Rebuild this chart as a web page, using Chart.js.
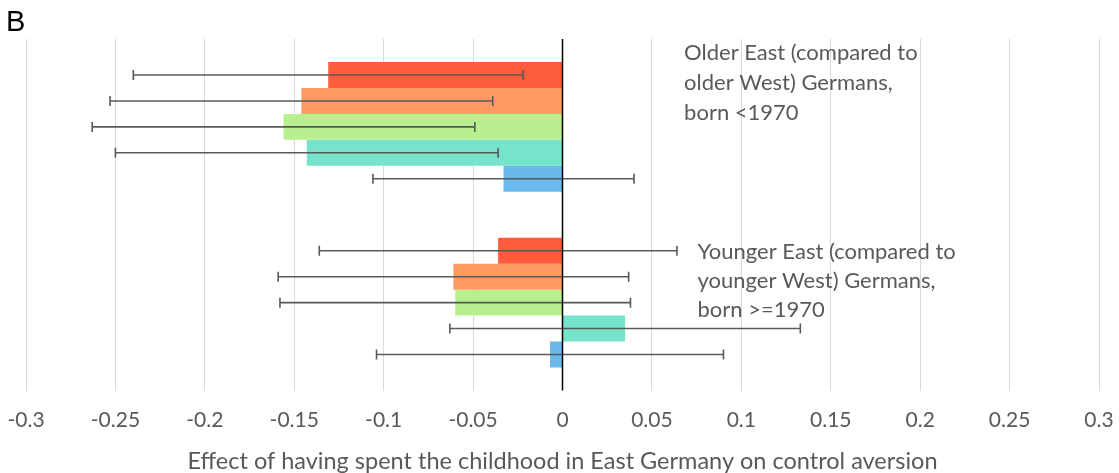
<!DOCTYPE html>
<html>
<head>
<meta charset="utf-8">
<script src="https://cdn.jsdelivr.net/npm/chart.js@4"></script>
<style>
    html, body { margin: 0; padding: 0; background: #ffffff; }
    #wrap { position: relative; width: 1119px; height: 473px; }
</style>
</head>
<body>
<div id="wrap"><canvas id="chart"></canvas></div>
<script>
// Two groups of bars (older / younger cohort)
const groups = ['Older (born <1970)', 'Younger (born >=1970)'];

// Bar values for each of the five series, one value per group
const seriesRed = [-0.131, -0.036];
const seriesOrange = [-0.146, -0.061];
const seriesGreen = [-0.156, -0.060];
const seriesTeal = [-0.143, 0.035];
const seriesBlue = [-0.033, -0.007];

// Half widths of the error bars, same order
const errRed = [0.109, 0.100];
const errOrange = [0.107, 0.098];
const errGreen = [0.107, 0.098];
const errTeal = [0.107, 0.098];
const errBlue = [0.073, 0.097];

// x axis ticks
const xTicks = [-0.3, -0.25, -0.2, -0.15, -0.1, -0.05, 0, 0.05, 0.1, 0.15, 0.2, 0.25, 0.3];

// Text notes next to each group
const noteOlder = ['Older East (compared to', 'older West) Germans,', 'born <1970'];
const noteYounger = ['Younger East (compared to', 'younger West) Germans,', 'born >=1970'];

const axisTitle = 'Effect of having spent the childhood in East Germany on control aversion';
const panelLabel = 'B';

const textGray = '#595959';
const fontFamily = 'Lato, "Open Sans", sans-serif';

const series = [
    { values: seriesRed, errors: errRed, color: '#FF5C3E' },
    { values: seriesOrange, errors: errOrange, color: '#FF9A62' },
    { values: seriesGreen, errors: errGreen, color: '#B8F08F' },
    { values: seriesTeal, errors: errTeal, color: '#76E3CD' },
    { values: seriesBlue, errors: errBlue, color: '#6BB9EC' }
];

// draws the error bars over the bars
const errorBarPlugin = {
    id: 'errorBars',
    afterDatasetsDraw(chart) {
        const ctx = chart.ctx;
        const xScale = chart.scales.x;
        ctx.save();
        ctx.strokeStyle = textGray;
        ctx.lineWidth = 1.6;
        series.forEach((s, i) => {
            const meta = chart.getDatasetMeta(i);
            meta.data.forEach((bar, j) => {
                const lo = xScale.getPixelForValue(s.values[j] - s.errors[j]);
                const hi = xScale.getPixelForValue(s.values[j] + s.errors[j]);
                const y = bar.y;
                ctx.beginPath();
                ctx.moveTo(lo, y);
                ctx.lineTo(hi, y);
                ctx.moveTo(lo, y - 5);
                ctx.lineTo(lo, y + 5);
                ctx.moveTo(hi, y - 5);
                ctx.lineTo(hi, y + 5);
                ctx.stroke();
            });
        });
        ctx.restore();
    }
};

// zero line, notes and panel letter
const textPlugin = {
    id: 'notes',
    afterDraw(chart) {
        const ctx = chart.ctx;
        const xScale = chart.scales.x;
        const area = chart.chartArea;
        ctx.save();

        const zx = xScale.getPixelForValue(0);
        ctx.strokeStyle = '#000000';
        ctx.lineWidth = 1.5;
        ctx.beginPath();
        ctx.moveTo(zx, area.top);
        ctx.lineTo(zx, area.bottom);
        ctx.stroke();

        ctx.fillStyle = textGray;
        ctx.font = '22px ' + fontFamily;
        ctx.textBaseline = 'middle';
        ctx.textAlign = 'left';
        const x1 = xScale.getPixelForValue(0.068);
        noteOlder.forEach((line, k) => ctx.fillText(line, x1, area.top + 14 + k * 30));
        const x2 = xScale.getPixelForValue(0.0755);
        noteYounger.forEach((line, k) => ctx.fillText(line, x2, area.top + 213 + k * 29));

        ctx.fillStyle = '#000000';
        ctx.font = '29px "Liberation Sans", Arial, sans-serif';
        ctx.fillText(panelLabel, 6, 23);
        ctx.restore();
    }
};

new Chart(document.getElementById('chart'), {
    type: 'bar',
    data: {
        labels: groups,
        datasets: series.map(s => ({
            data: s.values,
            backgroundColor: s.color,
            borderWidth: 0,
            categoryPercentage: 0.737,
            barPercentage: 1.0
        }))
    },
    options: {
        indexAxis: 'y',
        responsive: true,
        maintainAspectRatio: false,
        animation: false,
        layout: {
            padding: { top: 39, left: 26, right: 20, bottom: 0 }
        },
        plugins: {
            legend: { display: false },
            tooltip: { enabled: false }
        },
        scales: {
            x: {
                min: -0.3,
                max: 0.3,
                afterBuildTicks: function (axis) {
                    axis.ticks = xTicks.map(v => ({ value: v }));
                },
                // let the layout padding decide the plot edges, not the end labels
                afterFit: function (axis) {
                    axis.paddingLeft = 0;
                    axis.paddingRight = 0;
                },
                border: { display: false },
                grid: {
                    color: '#D9D9D9',
                    lineWidth: 1,
                    drawTicks: false
                },
                ticks: {
                    color: textGray,
                    padding: 19,
                    font: { family: fontFamily, size: 21, lineHeight: 1.0 },
                    maxRotation: 0,
                    callback: function (value) {
                        return String(Number(value.toFixed(2)));
                    }
                },
                title: {
                    display: true,
                    text: axisTitle,
                    color: textGray,
                    font: { family: fontFamily, size: 23.5, lineHeight: 1.0 },
                    padding: { top: 0, bottom: 0 }
                }
            },
            y: {
                display: false
            }
        }
    },
    plugins: [errorBarPlugin, textPlugin]
});
</script>
</body>
</html>
